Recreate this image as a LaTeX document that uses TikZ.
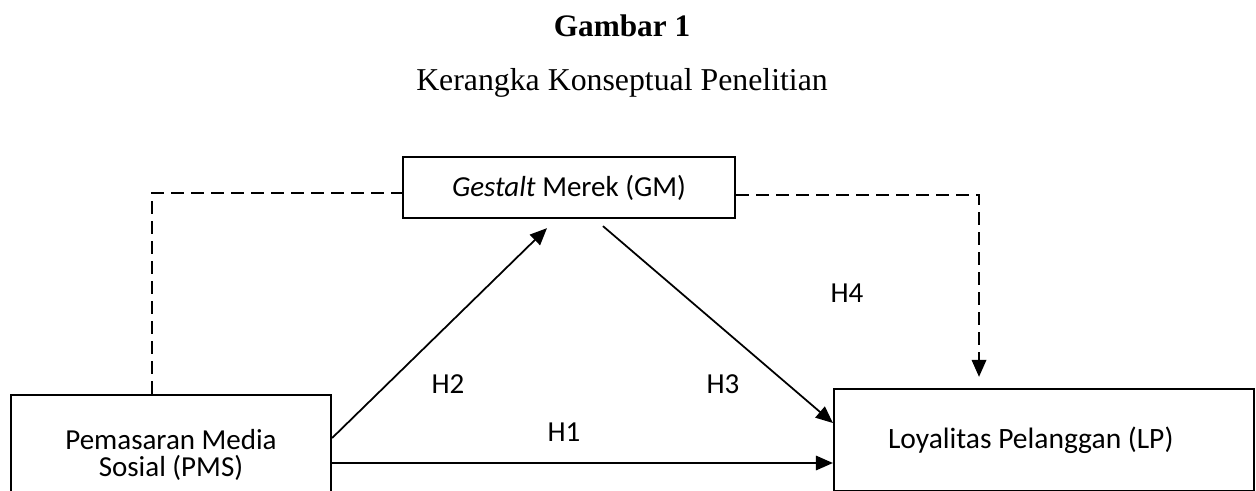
\documentclass[tikz,border=0pt]{standalone}
\usepackage{fontspec}
\setmainfont{Liberation Serif}
\newfontfamily\calibri{Carlito}
\usepackage{tikz}
\usetikzlibrary{arrows.meta, positioning}

\begin{document}
\begin{tikzpicture}[x=0.02cm, y=-0.02cm,
        var/.style={rectangle, draw, line width=1.3pt, font=\calibri\fontsize{16.5}{15.5}\selectfont, align=center},
        hyp/.style={font=\calibri\fontsize{16.5}{20}\selectfont},
        arr/.style={-{Triangle[length=0.34cm, width=0.29cm]}, line width=1pt},
        dasharr/.style={arr, line width=1.1pt, dash pattern=on 0.26cm off 0.14cm}]
        \useasboundingbox (0,0) rectangle (1256,490);
        \clip (0,0) rectangle (1256,490);
        % title
        \node[font=\bfseries\fontsize{17.8}{20}\selectfont, anchor=base] (title) at (622,36) {Gambar 1};
        \node[font=\fontsize{18.1}{20}\selectfont, anchor=base] (subtitle) at ([yshift=-1.1cm]title.base) {Kerangka Konseptual Penelitian};

        \node[var, minimum width=6.64cm, minimum height=1.22cm] (gm) at (569,187.5) {\textit{Gestalt} Merek (GM)};
        \node[var, minimum width=6.4cm, minimum height=2.4cm] (pms) at (171,455) {Pemasaran Media\\Sosial (PMS)};
        \node[var, inner xsep=1.08cm, minimum height=2.04cm] (lp) at (1044,440) {\makebox[6.24cm][l]{\fontsize{16.8}{15.5}\selectfont Loyalitas Pelanggan (LP)}};

        \node[hyp] (h1) at (564,432) {H1};
        \node[hyp] (h2) at (448,384) {H2};
        \node[hyp] (h3) at (723,384) {H3};
        \node[hyp] (h4) at (847,293) {H4};

        \draw[arr] ([yshift=0.34cm]pms.east) -- ([xshift=-0.44cm, yshift=-0.18cm]gm.south);
        \draw[arr] ([xshift=0.68cm, yshift=-0.14cm]gm.south) -- ([yshift=0.34cm]lp.west);
        \draw[arr] ([yshift=-0.16cm]pms.east) -- ([yshift=-0.16cm]pms.east -| lp.west);

        % mediation paths
        \draw[dasharr, -] ([xshift=-0.38cm]pms.north) |- ([yshift=-0.11cm]gm.west);
        \draw[dasharr] ([yshift=-0.15cm]gm.east) -| ([xshift=-1.3cm, yshift=0.22cm]lp.north);
\end{tikzpicture}
\end{document}
